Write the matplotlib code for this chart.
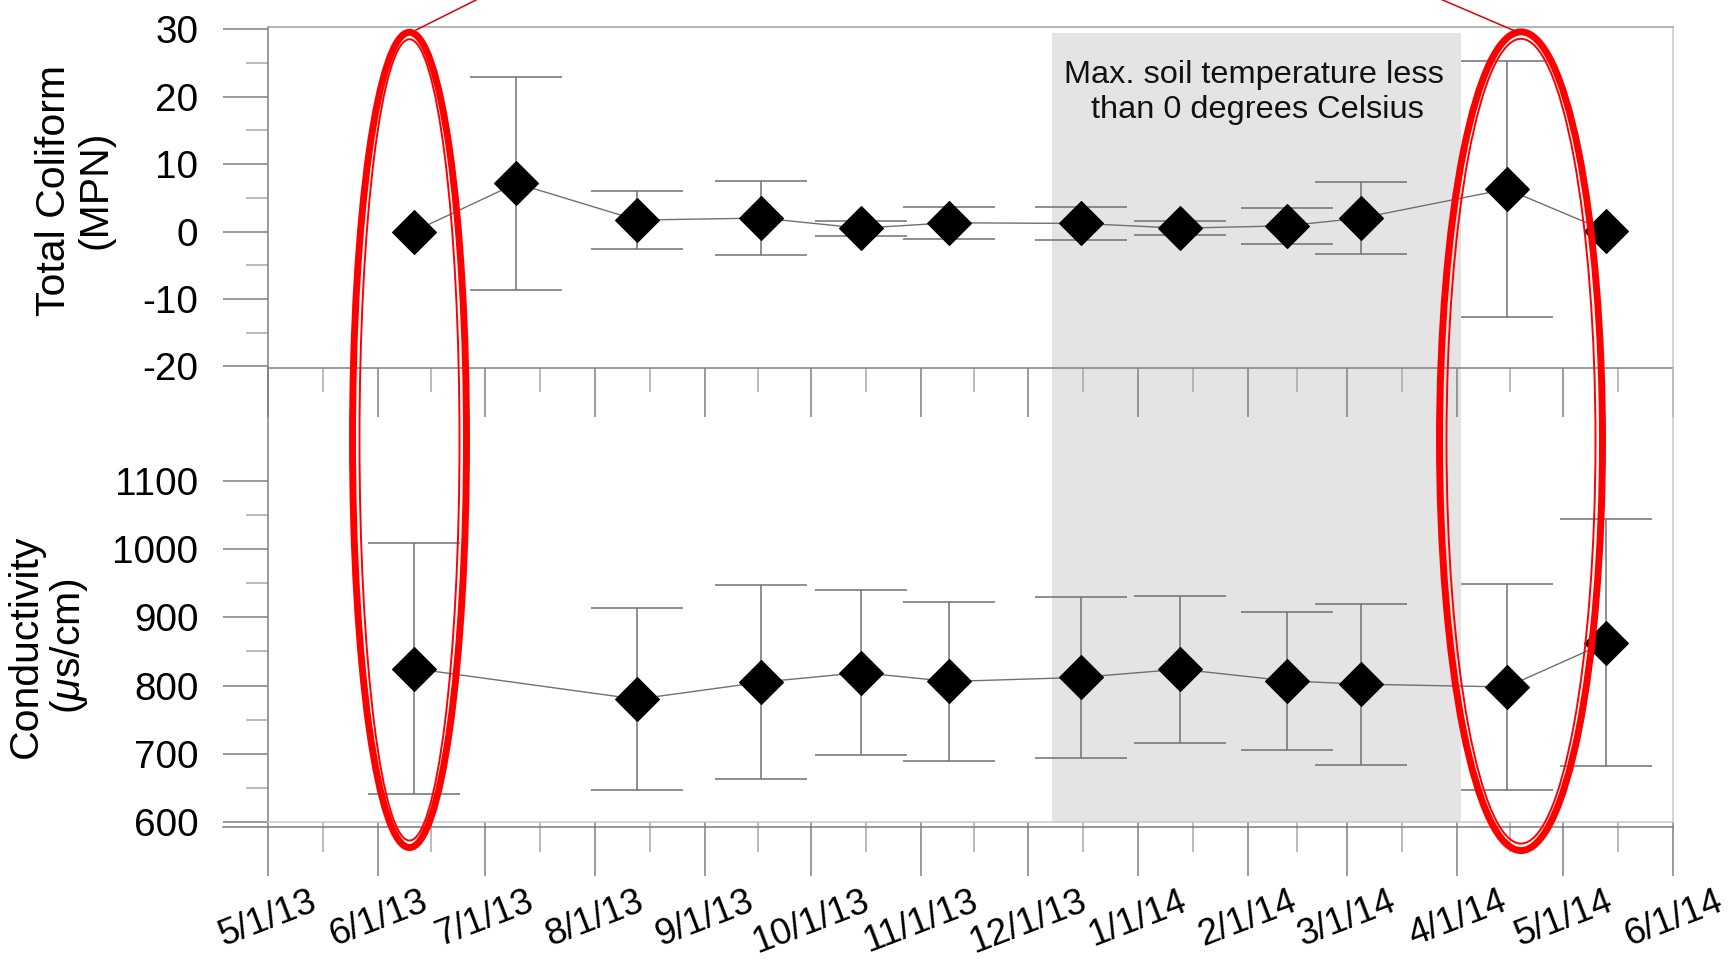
import datetime as dt

import numpy as np
import matplotlib
matplotlib.use("Agg")
import matplotlib.pyplot as plt
import matplotlib.dates as mdates
from matplotlib.patches import Ellipse, Rectangle
from matplotlib.lines import Line2D
from matplotlib.transforms import Affine2D, blended_transform_factory
from matplotlib.ticker import FixedLocator, MultipleLocator

plt.rcParams['font.family'] = ['Liberation Sans', 'DejaVu Sans']
plt.rcParams['mathtext.fontset'] = 'custom'
plt.rcParams['mathtext.rm'] = 'Liberation Sans'
plt.rcParams['mathtext.it'] = 'Liberation Sans:italic'
plt.rcParams['axes.unicode_minus'] = False

# ---- data -------------------------------------------------------------
sample_dates = ["2013-06-11", "2013-07-10", "2013-08-13", "2013-09-17",
                "2013-10-15", "2013-11-09", "2013-12-16", "2014-01-13",
                "2014-02-12", "2014-03-05", "2014-04-15", "2014-05-13"]

coliform_mean = [0.0, 7.15, 1.7, 2.0, 0.5, 1.3, 1.2, 0.5, 0.85, 2.0, 6.3, 0.1]
coliform_sd = [np.nan, 15.8, 4.25, 5.45, 1.1, 2.4, 2.4, 1.05, 2.7, 5.35, 19.05, np.nan]

conductivity_mean = [825, np.nan, 780, 805, 819, 806, 812, 824, 807, 802, 798, 863]
conductivity_sd = [184, np.nan, 133.5, 142, 120.5, 116.5, 118, 108, 101, 118, 151, 181]

month_labels = ["5/1/13", "6/1/13", "7/1/13", "8/1/13", "9/1/13", "10/1/13",
                "11/1/13", "12/1/13", "1/1/14", "2/1/14", "3/1/14", "4/1/14",
                "5/1/14", "6/1/14"]

frozen_period = ["2013-12-08", "2014-04-02"]
frozen_text = ["Max. soil temperature less", "than 0 degrees Celsius"]

# ---- figure -----------------------------------------------------------
W, H = 1729, 965
fig = plt.figure(figsize=(W / 100, H / 100), dpi=100)
fig.patch.set_facecolor("white")
# pixel coordinates measured from the top-left corner of the canvas
px = Affine2D().scale(1 / W, -1 / H).translate(0, 1) + fig.transFigure

left, width = 268 / W, 1405.5 / W
y_top, y_mid, y_bot = 27.3, 367.7, 822.0
ax1 = fig.add_axes([left, 1 - y_mid / H, width, (y_mid - y_top) / H])
ax2 = fig.add_axes([left, 1 - y_bot / H, width, (y_bot - y_mid) / H])
for ax in (ax1, ax2):
    ax.set_facecolor("none")

to_num = lambda s: mdates.date2num(dt.datetime.strptime(s, "%Y-%m-%d"))
x = np.array([to_num(d) for d in sample_dates])
month_pos = np.array([mdates.date2num(dt.datetime.strptime(m, "%m/%d/%y"))
                      for m in month_labels])
mid_pos = (month_pos[:-1] + month_pos[1:]) / 2

for ax in (ax1, ax2):
    ax.set_xlim(month_pos[0], month_pos[-1])
ax1.set_ylim(-20.2, 30.3)
ax2.set_ylim(600, 1266)

# shaded frozen-soil period spanning both panels
f0, f1 = to_num(frozen_period[0]), to_num(frozen_period[1])
shade = Rectangle((f0, 1 - y_bot / H), f1 - f0, (y_bot - 33.3) / H,
                  transform=blended_transform_factory(ax2.transData, fig.transFigure),
                  facecolor="#e4e4e4", edgecolor="none", zorder=-1)
fig.add_artist(shade)
fig.text(1254, 82.7, frozen_text[0], transform=px, ha="center", va="baseline",
         fontsize=23.4, color="#111111")
fig.text(1257, 118.3, frozen_text[1], transform=px, ha="center", va="baseline",
         fontsize=23.4, color="#111111")

line_c, err_c = "#707070", "#707070"


def draw_series(ax, mean, sd):
    mean = np.asarray(mean, dtype=float)
    sd = np.asarray(sd, dtype=float)
    has_mean = ~np.isnan(mean)
    has_sd = has_mean & ~np.isnan(sd)
    ax.plot(x[has_mean], mean[has_mean], color=line_c, lw=1.0, zorder=2)
    ax.errorbar(x[has_sd], mean[has_sd], yerr=sd[has_sd], fmt="none",
                ecolor=err_c, elinewidth=1.1, capsize=33, capthick=1.1, zorder=3)
    ax.plot(x[has_mean], mean[has_mean], "D", ms=22, color="black",
            mew=0.8, zorder=4)


draw_series(ax1, coliform_mean, coliform_sd)
draw_series(ax2, conductivity_mean, conductivity_sd)

# ---- axes styling -----------------------------------------------------
major_c, minor_c = "#808080", "#a8a8a8"
ax1.yaxis.set_major_locator(MultipleLocator(10))
ax1.yaxis.set_minor_locator(MultipleLocator(5))
ax2.yaxis.set_major_locator(FixedLocator(np.arange(600, 1101, 100)))
ax2.yaxis.set_minor_locator(FixedLocator(np.arange(650, 1051, 100)))
for ax in (ax1, ax2):
    ax.xaxis.set_major_locator(FixedLocator(month_pos))
    ax.xaxis.set_minor_locator(FixedLocator(mid_pos))
    ax.tick_params(axis="y", which="major", direction="out", length=32.6,
                   width=1.1, color=major_c, pad=17.5, labelsize=27.8)
    ax.tick_params(axis="y", which="minor", direction="out", length=16,
                   width=1.1, color=minor_c)
    ax.spines["left"].set_color(major_c)
    ax.spines["right"].set_color("#c8c8c8")
    for s in ax.spines.values():
        s.set_linewidth(1.1)

ax1.tick_params(axis="x", which="major", direction="out", length=35.5,
                width=1.1, color=major_c, labelbottom=False)
ax1.tick_params(axis="x", which="minor", direction="out", length=17.5,
                width=1.1, color=minor_c)
ax1.spines["top"].set_color("#a0a0a0")
ax1.spines["bottom"].set_color(major_c)

ax2.spines["top"].set_visible(False)
ax2.spines["bottom"].set_color("#c8c8c8")
ax2.tick_params(axis="x", which="major", direction="out", length=38.9,
                width=1.1, color=major_c, pad=6.0)
ax2.tick_params(axis="x", which="minor", direction="out", length=21.6,
                width=1.1, color=minor_c)
ax2.set_xticklabels(month_labels, rotation=21, ha="center", fontsize=26.5)

# x-axis baseline just under the conductivity frame
fig.add_artist(Line2D([222.7, 1673.5], [827, 827], transform=px,
                      color="#7a7a7a", lw=1.1))

# axis titles
fig.text(75, 190, "Total Coliform\n(MPN)", transform=px, rotation=90,
         ha="center", va="center", multialignment="center",
         fontsize=29.5, linespacing=1.1)
fig.text(48, 646, "Conductivity\n($\\mu$s/cm)", transform=px, rotation=90,
         ha="center", va="center", multialignment="center",
         fontsize=29.5, linespacing=1.1)

# red callout ellipses around the spring samples
for (cx, cy, w, h) in [(409.5, 439.9, 121, 822.3), (1521, 441.2, 170, 825.7)]:
    fig.add_artist(Ellipse((cx, cy), w - 7, h - 7, transform=px, fill=False,
                           edgecolor="#ff0000", lw=5.0, zorder=10))
    fig.add_artist(Ellipse((cx, cy), w - 21, h - 21, transform=px, fill=False,
                           edgecolor="#ff0000", lw=1.4, zorder=10))
fig.add_artist(Line2D([416, 488], [30, -6], transform=px, color="#e00000",
                      lw=1.1, zorder=10))
fig.add_artist(Line2D([1515, 1438], [31, -2], transform=px, color="#e00000",
                      lw=1.1, zorder=10))

fig.savefig("out.png", dpi=100, facecolor="white")
